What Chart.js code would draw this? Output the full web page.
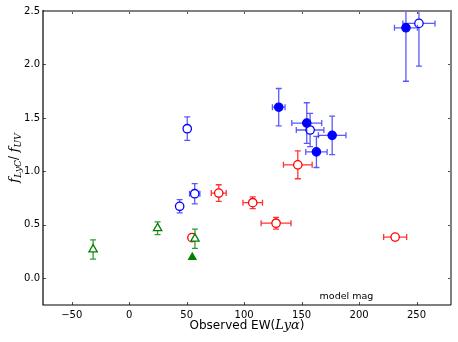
<!DOCTYPE html>
<html>
<head>
<meta charset="utf-8">
<script src="https://cdn.jsdelivr.net/npm/chart.js@4"></script>
<style>
html,body{margin:0;padding:0;background:#fff;}
#wrap{width:458px;height:342px;}
</style>
</head>
<body>
<div id="wrap"><canvas id="c" width="458" height="342"></canvas></div>
<script>
// ---- data ----
const xTicks = [-50, 0, 50, 100, 150, 200, 250];
const yTicks = [0, 0.5, 1.0, 1.5, 2.0, 2.5];

const blueFilledX    = [130.1, 154.5, 176.6, 162.9, 240.8];
const blueFilledY    = [1.60, 1.452, 1.337, 1.182, 2.343];
const blueFilledXErr = [5.5, 13, 12, 9.3, 10];
const blueFilledYErr = [0.175, 0.19, 0.18, 0.146, 0.5];

const blueOpenX    = [252.1, 157.4, 50.5, 57.0, 43.9];
const blueOpenY    = [2.384, 1.387, 1.399, 0.791, 0.673];
const blueOpenXErr = [14, 12, 0, 4.5, 0];
const blueOpenYErr = [0.4, 0.155, 0.11, 0.095, 0.062];

const redOpenX    = [146.7, 77.9, 107.5, 127.8, 54.6, 231.4];
const redOpenY    = [1.061, 0.797, 0.707, 0.515, 0.38, 0.385];
const redOpenXErr = [12.5, 6.5, 8.5, 13, 0, 10];
const redOpenYErr = [0.13, 0.078, 0.055, 0.055, 0, 0];

const greenOpenX    = [-31.4, 24.7, 57.2];
const greenOpenY    = [0.27, 0.468, 0.37];
const greenOpenYErr = [0.09, 0.06, 0.09];

const greenFilledX = [54.9];
const greenFilledY = [0.196];

const noteText = "model mag";
const noteX = 189, noteY = -0.17;

function pts(xs, ys, xe, ye) {
  return xs.map((x, i) => ({x: x, y: ys[i], xe: xe ? xe[i] : 0, ye: ye ? ye[i] : 0}));
}

const errPlugin = {
  id: 'errbars',
  beforeDatasetDraw(chart, args) {
    const ds = chart.data.datasets[args.index];
    const xs = chart.scales.x, ys = chart.scales.y, ctx = chart.ctx;
    const a = chart.chartArea;
    ctx.save();
    ctx.beginPath();
    ctx.rect(a.left, a.top, a.right - a.left, a.bottom - a.top);
    ctx.clip();
    ctx.strokeStyle = ds.errColor;
    ctx.lineWidth = 1.3;
    const cap = 3;
    ds.data.forEach(p => {
      const px = xs.getPixelForValue(p.x), py = ys.getPixelForValue(p.y);
      ctx.beginPath();
      if (p.xe) {
        const x1 = xs.getPixelForValue(p.x - p.xe), x2 = xs.getPixelForValue(p.x + p.xe);
        ctx.moveTo(x1, py); ctx.lineTo(x2, py);
        ctx.moveTo(x1, py - cap); ctx.lineTo(x1, py + cap);
        ctx.moveTo(x2, py - cap); ctx.lineTo(x2, py + cap);
      }
      if (p.ye) {
        const y1 = ys.getPixelForValue(p.y - p.ye), y2 = ys.getPixelForValue(p.y + p.ye);
        ctx.moveTo(px, y1); ctx.lineTo(px, y2);
        ctx.moveTo(px - cap, y1); ctx.lineTo(px + cap, y1);
        ctx.moveTo(px - cap, y2); ctx.lineTo(px + cap, y2);
      }
      ctx.stroke();
    });
    ctx.restore();
  }
};

const framePlugin = {
  id: 'frame',
  afterDraw(chart) {
    const ctx = chart.ctx, a = chart.chartArea;
    const xs = chart.scales.x, ys = chart.scales.y;
    ctx.save();
    // ticks (inward)
    ctx.strokeStyle = '#555';
    ctx.lineWidth = 1;
    ctx.beginPath();
    xTicks.forEach(v => {
      const x = Math.round(xs.getPixelForValue(v)) + 0.5;
      ctx.moveTo(x, a.bottom); ctx.lineTo(x, a.bottom - 3);
      ctx.moveTo(x, a.top); ctx.lineTo(x, a.top + 3);
    });
    yTicks.forEach(v => {
      const y = Math.round(ys.getPixelForValue(v)) + 0.5;
      ctx.moveTo(a.left, y); ctx.lineTo(a.left + 3, y);
      ctx.moveTo(a.right, y); ctx.lineTo(a.right - 3, y);
    });
    ctx.stroke();
    // spines
    ctx.strokeStyle = '#808080';
    ctx.lineWidth = 2;
    ctx.beginPath();
    ctx.moveTo(a.left, a.top); ctx.lineTo(a.right, a.top); ctx.lineTo(a.right, a.bottom);
    ctx.stroke();
    ctx.strokeStyle = '#000';
    ctx.lineWidth = 1.2;
    ctx.beginPath();
    ctx.moveTo(a.left, a.top - 1); ctx.lineTo(a.left, a.bottom); ctx.lineTo(a.right, a.bottom);
    ctx.stroke();

    // note text
    ctx.fillStyle = '#000';
    ctx.font = '9.5px "DejaVu Sans"';
    ctx.textAlign = 'center';
    ctx.textBaseline = 'middle';
    ctx.fillText(noteText, xs.getPixelForValue(noteX), ys.getPixelForValue(noteY));

    // x title: Observed EW(Lyα)
    const p1 = 'Observed EW(', p2 = 'Ly\u03B1', p3 = ')';
    const f1 = '12px "DejaVu Sans"', f2 = 'italic 13px "DejaVu Serif"';
    ctx.font = f1; const w1 = ctx.measureText(p1).width, w3 = ctx.measureText(p3).width;
    ctx.font = f2; const w2 = ctx.measureText(p2).width;
    let x0 = (a.left + a.right) / 2 - (w1 + w2 + w3) / 2;
    const ty = 325;
    ctx.textAlign = 'left';
    ctx.textBaseline = 'alphabetic';
    ctx.font = f1; ctx.fillText(p1, x0, ty + 4); x0 += w1;
    ctx.font = f2; ctx.fillText(p2, x0, ty + 4); x0 += w2;
    ctx.font = f1; ctx.fillText(p3, x0, ty + 4);

    // y title: f_LyC / f_UV
    ctx.translate(14, (a.top + a.bottom) / 2);
    ctx.rotate(-Math.PI / 2);
    const parts = [
      ['f', 'italic 13px "DejaVu Serif"', 0],
      ['LyC', 'italic 9px "DejaVu Serif"', 3],
      ['/ ', '12px "DejaVu Serif"', 0],
      ['f', 'italic 13px "DejaVu Serif"', 0],
      ['UV', 'italic 9px "DejaVu Serif"', 3]
    ];
    let tw = 0;
    parts.forEach(p => { ctx.font = p[1]; p.push(ctx.measureText(p[0]).width); tw += p[3]; });
    let cx = -tw / 2;
    parts.forEach(p => { ctx.font = p[1]; ctx.fillText(p[0], cx, 4 + p[2]); cx += p[3]; });
    ctx.restore();
  }
};

const fmtMinus = v => String(v).replace('-', '\u2212');

new Chart(document.getElementById('c'), {
  type: 'scatter',
  data: {
    datasets: [
      { label: 'green filled', data: pts(greenFilledX, greenFilledY),
        pointStyle: 'triangle', pointRadius: 4.3, borderColor: '#008000', backgroundColor: '#008000',
        borderWidth: 1.2, errColor: '#008000' },
      { label: 'green open', data: pts(greenOpenX, greenOpenY, null, greenOpenYErr),
        pointStyle: 'triangle', pointRadius: 4.8, borderColor: '#008000', backgroundColor: '#ffffff',
        borderWidth: 1.3, errColor: 'rgba(0,128,0,0.8)' },
      { label: 'blue filled', data: pts(blueFilledX, blueFilledY, blueFilledXErr, blueFilledYErr),
        pointStyle: 'circle', pointRadius: 4.2, borderColor: '#0000ff', backgroundColor: '#0000ff',
        borderWidth: 1.2, errColor: 'rgba(0,0,255,0.65)' },
      { label: 'blue open', data: pts(blueOpenX, blueOpenY, blueOpenXErr, blueOpenYErr),
        pointStyle: 'circle', pointRadius: 4.2, borderColor: '#0000ff', backgroundColor: '#ffffff',
        borderWidth: 1.3, errColor: 'rgba(0,0,255,0.65)' },
      { label: 'red open', data: pts(redOpenX, redOpenY, redOpenXErr, redOpenYErr),
        pointStyle: 'circle', pointRadius: 4.2, borderColor: '#ff0000', backgroundColor: '#ffffff',
        borderWidth: 1.3, errColor: 'rgba(255,0,0,0.8)' }
    ]
  },
  options: {
    responsive: false,
    animation: false,
    layout: { padding: { top: 11, right: 7, left: 0, bottom: 0 } },
    plugins: { legend: { display: false }, tooltip: { enabled: false } },
    scales: {
      x: {
        type: 'linear', min: -75, max: 280,
        grid: { display: false, drawTicks: false },
        border: { display: false },
        afterBuildTicks: s => { s.ticks = xTicks.map(v => ({value: v})); },
        afterFit: s => { s.height = 37; },
        ticks: { color: '#000', font: { family: 'DejaVu Sans', size: 10 }, padding: 4,
                 maxRotation: 0, autoSkip: false, callback: v => fmtMinus(v) }
      },
      y: {
        type: 'linear', min: -0.25, max: 2.5,
        grid: { display: false, drawTicks: false },
        border: { display: false },
        afterBuildTicks: s => { s.ticks = yTicks.map(v => ({value: v})); },
        afterFit: s => { s.width = 43; },
        ticks: { color: '#000', font: { family: 'DejaVu Sans', size: 10 }, padding: 3,
                 autoSkip: false, callback: v => fmtMinus(Number(v).toFixed(1)) }
      }
    }
  },
  plugins: [errPlugin, framePlugin]
});
</script>
</body>
</html>
